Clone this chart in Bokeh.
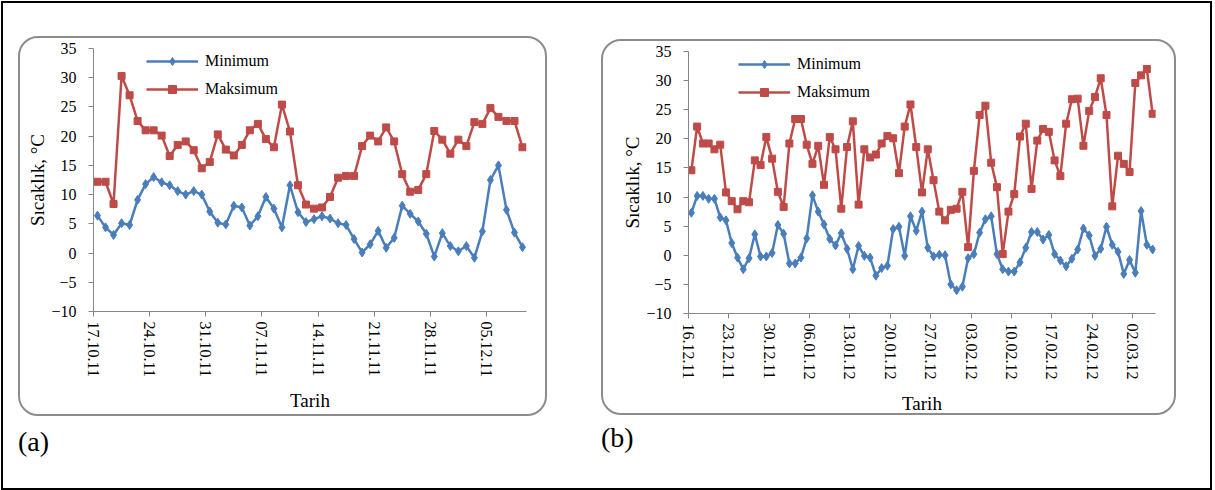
from datetime import datetime
from bokeh.plotting import figure
from bokeh.models import Range1d, FixedTicker, Legend, LegendItem, Div, Spacer, ColumnDataSource
from bokeh.layouts import row, column
from bokeh.embed import file_html
from bokeh.resources import INLINE

# ---------------- data ----------------
start_a = "17.10.11"
min_a = [6.4, 4.4, 3.1, 5.1, 4.8, 9.1, 11.8, 13.0, 12.1, 11.6,
         10.6, 10.0, 10.6, 10.0, 7.1, 5.2, 4.9, 8.1, 7.8, 4.7,
         6.3, 9.6, 7.6, 4.4, 11.6, 7.0, 5.3, 5.8, 6.3, 5.9,
         5.1, 4.8, 2.4, 0.1, 1.5, 3.8, 0.9, 2.6, 8.1, 6.7,
         5.4, 3.3, -0.6, 3.4, 1.2, 0.3, 1.2, -0.8, 3.7, 12.5,
         15.0, 7.4, 3.5, 1.0]
max_a = [12.2, 12.2, 8.4, 30.3, 27.0, 22.6, 21.0, 21.0, 20.1, 16.6,
         18.5, 19.1, 17.6, 14.5, 15.6, 20.3, 17.7, 16.7, 18.5, 21.0,
         22.1, 19.5, 18.1, 25.4, 20.8, 11.6, 8.3, 7.6, 7.8, 9.6,
         12.9, 13.2, 13.2, 18.3, 20.1, 19.1, 21.5, 19.1, 13.5, 10.5,
         10.8, 13.5, 20.9, 19.4, 17.0, 19.4, 18.3, 22.4, 22.1, 24.8,
         23.3, 22.6, 22.6, 18.1]
ticks_a = ["17.10.11", "24.10.11", "31.10.11", "07.11.11", "14.11.11",
           "21.11.11", "28.11.11", "05.12.11"]

start_b = "16.12.11"
min_b = [7.3, 10.2, 10.2, 9.7, 9.7, 6.5, 6.0, 2.1, -0.4, -2.4,
         -0.5, 3.6, -0.2, -0.2, 0.4, 5.2, 3.7, -1.4, -1.4, -0.4,
         2.9, 10.3, 7.5, 5.3, 2.8, 1.7, 3.8, 1.1, -2.4, 1.6,
         -0.1, -0.4, -3.5, -2.2, -1.8, 4.5, 4.9, -0.1, 6.7, 4.2,
         7.5, 1.3, -0.2, 0.1, 0.0, -5.0, -6.0, -5.4, -0.5, 0.2,
         3.9, 6.2, 6.7, 0.2, -2.4, -2.8, -2.8, -1.2, 1.3, 4.0,
         4.0, 2.7, 3.5, 0.2, -0.9, -1.9, -0.6, 1.0, 4.6, 3.4,
         -0.1, 1.1, 4.9, 1.8, 0.6, -3.2, -0.8, -3.0, 7.6, 1.8,
         1.0]
max_b = [14.6, 22.1, 19.2, 19.2, 18.2, 19.0, 10.8, 9.3, 7.9, 9.3,
         9.1, 16.3, 15.5, 20.3, 16.6, 10.9, 8.3, 19.2, 23.4, 23.4,
         19.0, 15.7, 18.8, 12.1, 20.3, 18.2, 8.0, 18.6, 23.0, 8.7,
         18.2, 16.8, 17.3, 19.2, 20.5, 20.1, 14.1, 22.1, 25.9, 18.6,
         10.8, 18.2, 12.9, 7.5, 6.0, 7.8, 8.0, 10.9, 1.4, 14.5,
         24.1, 25.7, 15.9, 11.7, 0.2, 7.5, 10.5, 20.4, 22.6, 11.4,
         19.7, 21.7, 21.2, 16.3, 13.6, 22.6, 26.8, 26.9, 18.8, 24.8,
         27.2, 30.4, 24.1, 8.4, 17.1, 15.7, 14.3, 29.6, 30.9, 32.0,
         24.3]
ticks_b = ["16.12.11", "23.12.11", "30.12.11", "06.01.12", "13.01.12",
           "20.01.12", "27.01.12", "03.02.12", "10.02.12", "17.02.12",
           "24.02.12", "02.03.12"]

y_ticks = [-10, -5, 0, 5, 10, 15, 20, 25, 30, 35]
series_names = ["Minimum", "Maksimum"]
y_label = "Sıcaklık, °C"
x_label = "Tarih"

BLUE = "#4A7EBB"
RED = "#BE4B48"
AXIS = "#868686"
SERIF = "Liberation Serif"
DAY = 86400000.0
EPOCH = datetime(1970, 1, 1)


def to_ms(s):
    return (datetime.strptime(s, "%d.%m.%y") - EPOCH).total_seconds() * 1000.0


def make_chart(start, mins, maxs, ticks, fw, fh, bl, br, bt, bb, leg_x):
    t0 = to_ms(start)
    n = len(mins)
    src = ColumnDataSource(dict(
        x=[t0 + (i + 0.5) * DAY for i in range(n)], mn=mins, mx=maxs))
    tick_ms = [to_ms(t) for t in ticks]
    p = figure(width=fw + bl + br + 4, height=fh + bt + bb + 4,
               x_range=Range1d(t0, t0 + n * DAY), y_range=Range1d(-10, 35),
               output_backend="svg", toolbar_location=None,
               min_border_left=bl, min_border_right=br,
               min_border_top=bt, min_border_bottom=bb,
               styles={"border": "2px solid #8c8c8c", "border-radius": "20px"})
    p.border_fill_alpha = 0
    p.background_fill_alpha = 0
    p.outline_line_color = None
    p.xgrid.visible = False
    p.ygrid.visible = False

    l1 = p.line("x", "mn", source=src, line_color=BLUE, line_width=2.5)
    s1 = p.scatter("x", "mn", source=src, marker="diamond", size=9,
                   fill_color=BLUE, line_color=BLUE)
    l2 = p.line("x", "mx", source=src, line_color=RED, line_width=2.5)
    s2 = p.scatter("x", "mx", source=src, marker="square", size=7,
                   fill_color=RED, line_color=RED)

    p.xaxis.ticker = FixedTicker(ticks=tick_ms)
    p.xaxis.major_label_overrides = {m: t for m, t in zip(tick_ms, ticks)}
    p.xaxis.major_label_orientation = "vertical"
    p.xaxis.major_label_standoff = 5
    p.yaxis.ticker = FixedTicker(ticks=y_ticks)
    p.yaxis.major_label_standoff = 12
    p.xaxis.axis_label = x_label
    p.yaxis.axis_label = y_label
    p.xaxis.axis_label_standoff = 10
    p.yaxis.axis_label_standoff = 0
    for ax in (p.xaxis[0], p.yaxis[0]):
        ax.axis_line_color = AXIS
        ax.major_tick_line_color = AXIS
        ax.major_tick_out = 5
        ax.major_tick_in = 0
        ax.minor_tick_line_color = None
        ax.major_label_text_font = SERIF
        ax.major_label_text_font_size = "16px"
        ax.major_label_text_color = "#000000"
        ax.axis_label_text_font = SERIF
        ax.axis_label_text_font_size = "19px"
        ax.axis_label_text_font_style = "normal"
        ax.axis_label_text_color = "#000000"

    legend = Legend(items=[LegendItem(label=series_names[0], renderers=[l1, s1]),
                           LegendItem(label=series_names[1], renderers=[l2, s2])],
                    location=(leg_x, fh - 47))
    legend.padding = 0
    legend.margin = 0
    legend.spacing = 8
    legend.glyph_width = 52
    legend.glyph_height = 20
    legend.label_height = 20
    legend.label_standoff = 7
    legend.label_text_font = SERIF
    legend.label_text_font_size = "16px"
    legend.label_text_color = "#000000"
    legend.border_line_color = None
    legend.background_fill_alpha = 0
    p.add_layout(legend)
    return p


pa = make_chart(start_a, min_a, max_a, ticks_a, 429, 259, 73, 23, 10, 107, 53)
pb = make_chart(start_b, min_b, max_b, ticks_b, 463, 258, 85, 23, 10, 104, 50)

lab_style = {"font-family": SERIF, "font-size": "28px", "color": "#000000"}
div_a = Div(text="(a)", width=80, height=40, margin=0, styles=lab_style)
div_b = Div(text="(b)", width=80, height=40, margin=0, styles=lab_style)

H = 485
col_a = column(Spacer(width=529, height=33), pa, Spacer(width=529, height=6), div_a,
               Spacer(width=529, height=H - 33 - 380 - 6 - 40))
col_b = column(Spacer(width=575, height=36), pb, Spacer(width=575, height=3), div_b,
               Spacer(width=575, height=H - 36 - 376 - 3 - 40))

root = row(Spacer(width=15, height=H), col_a, Spacer(width=54, height=H), col_b,
           Spacer(width=34, height=H),
           styles={"border": "2px solid #000000"}, margin=(1, 0, 0, 1))

open("out.html", "w").write(file_html(root, INLINE))
